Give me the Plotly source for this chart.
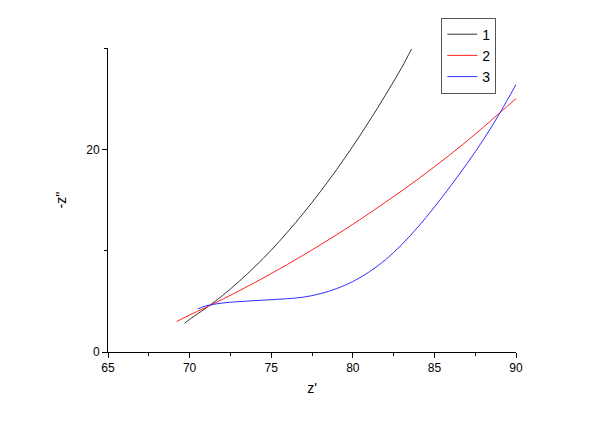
import plotly.graph_objects as go

x1 = [69.7, 70, 71, 72, 73, 74, 75, 76, 77, 78, 79, 80, 81, 82, 83, 83.6]
y1 = [2.85, 3.22, 4.33, 5.55, 6.92, 8.42, 10.05, 11.84, 13.75, 15.8, 17.98, 20.3, 22.76, 25.35, 28.08, 29.9]

x2 = [69.2, 70, 71, 72, 73, 74, 75, 76, 77, 78, 79, 80, 81, 82, 83, 84, 85, 86, 87, 88, 89, 90]
y2 = [3.0, 3.65, 4.40, 5.19, 6.01, 6.86, 7.74, 8.65, 9.59, 10.56, 11.56, 12.6, 13.67, 14.78, 15.9, 17.07, 18.28, 19.52, 20.82, 22.18, 23.6, 25.0]

x3 = [70.5, 71, 72, 73, 74, 75, 76, 77, 78, 79, 80, 81, 82, 83, 84, 85, 86, 87, 88, 89, 90]
y3 = [4.25, 4.55, 4.83, 4.97, 5.07, 5.16, 5.26, 5.42, 5.75, 6.25, 6.95, 7.9, 9.1, 10.6, 12.35, 14.3, 16.4, 18.6, 20.95, 23.55, 26.4]

names = ["1", "2", "3"]
colors = ["#333333", "#ff2020", "#3030ff"]

fig = go.Figure()
for xs, ys, n, c in zip([x1, x2, x3], [y1, y2, y3], names, colors):
    fig.add_trace(go.Scatter(x=xs, y=ys, mode="lines", name=n,
                             line=dict(color=c, width=1, shape="spline", smoothing=1)))

fig.update_layout(
    width=600, height=424,
    margin=dict(l=100, r=92, t=40, b=80, autoexpand=False),
    paper_bgcolor="white", plot_bgcolor="white",
    font=dict(family="Liberation Sans, Arial, sans-serif", size=12, color="black"),
    showlegend=True,
    legend=dict(x=0.817, y=1.10, xanchor="left", yanchor="top",
                bordercolor="#555555", borderwidth=1, bgcolor="white",
                font=dict(size=14), tracegroupgap=0, itemwidth=30),
    xaxis=dict(range=[65, 90], showgrid=False, zeroline=False, showline=True,
               linecolor="black", linewidth=1, ticks="outside", ticklen=5,
               tickcolor="black", dtick=5, tick0=65,
               minor=dict(dtick=2.5, tick0=65, ticks="outside", ticklen=3, tickcolor="black"),
               title=dict(text="z'", font=dict(size=14), standoff=8)),
    yaxis=dict(range=[0, 30], showgrid=False, zeroline=False, showline=True,
               linecolor="black", linewidth=1, ticks="outside", ticklen=5,
               tickcolor="black", dtick=20, tick0=0,
               minor=dict(dtick=10, tick0=0, ticks="outside", ticklen=3, tickcolor="black"),
               title=dict(text="-z''", font=dict(size=14), standoff=16)),
)

fig.write_html("out.html")
